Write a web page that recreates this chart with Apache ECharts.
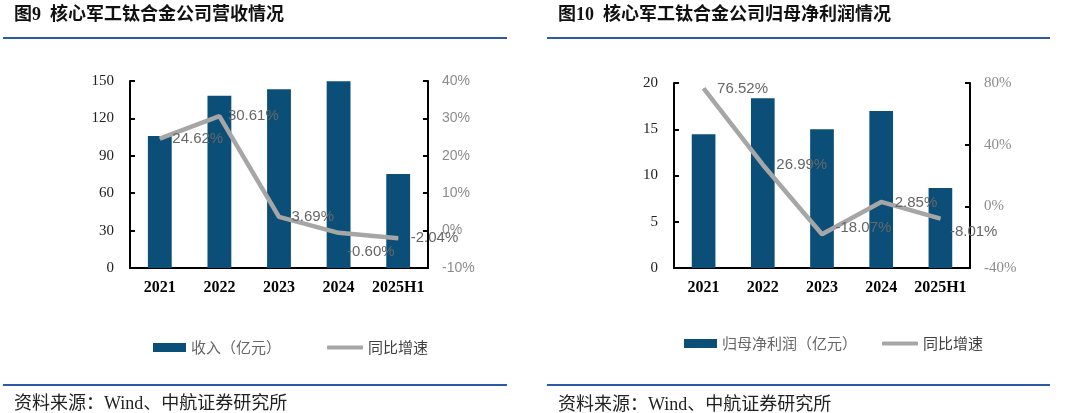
<!DOCTYPE html>
<html>
<head>
<meta charset="utf-8">
<script src="https://cdn.jsdelivr.net/npm/echarts@6/dist/echarts.min.js"></script>
<style>
html,body{margin:0;padding:0;background:#fff;}
#c{width:1080px;height:413px;}
</style>
</head>
<body>
<div id="c"></div>
<script>
// ---- data ----
const categories = ['2021', '2022', '2023', '2024', '2025H1'];
const revenue = [105.8, 138.2, 143.3, 149.8, 75.4];          // 收入（亿元）
const revenueYoY = [24.62, 30.61, 3.69, -0.60, -2.04];       // 同比增速 %
const profit = [14.45, 18.35, 15.0, 16.97, 8.65];            // 归母净利润（亿元）
const profitYoY = [76.52, 26.99, -18.07, 2.85, -8.01];       // 同比增速 %
const leftRevAxis = {min: 0, max: 150, interval: 30};
const leftYoYAxis = {min: -10, max: 40, interval: 10};
const rightProfitAxis = {min: 0, max: 20, interval: 5};
const rightYoYAxis = {min: -40, max: 80, interval: 40};
const titles = ['图9  核心军工钛合金公司营收情况', '图10  核心军工钛合金公司归母净利润情况'];
const sourceText = '资料来源：Wind、中航证券研究所';

// ---- styling ----
const BAR = '#0b4f79';
const LINE = '#a6a6a6';
const BLUE = '#2a5aa8';
const SERIF = '"Liberation Serif", "Noto Sans CJK SC", serif';
const SANS = '"Liberation Sans", "Noto Sans CJK SC", sans-serif';
const CJK = '"Noto Sans CJK SC", sans-serif';

const revOffsets = [[0, 0], [-4, 0], [0, 0], [-4, 19], [0, 0]];
const profOffsets = [[0, 0], [0, 0], [0, -6], [0, 1], [-4, 13]];

function yoyData(vals, offs) {
  return vals.map((v, i) => ({value: v, label: {offset: offs[i]}}));
}

const chart = echarts.init(document.getElementById('c'));

function xAxisFor(gi) {
  return {
    type: 'category', gridIndex: gi, data: categories,
    axisLine: {lineStyle: {color: '#000', width: 2}},
    axisTick: {inside: true, length: 5, lineStyle: {color: '#000', width: 2}},
    axisLabel: {interval: 0, fontFamily: SERIF, fontWeight: 'bold', fontSize: 16, color: '#000', margin: 12}
  };
}
function yAxisFor(gi, cfg, pos, labelOpt) {
  return Object.assign({
    type: 'value', gridIndex: gi, position: pos,
    min: cfg.min, max: cfg.max, interval: cfg.interval,
    splitLine: {show: false},
    axisLine: {show: true, lineStyle: {color: '#000', width: 2}},
    axisTick: {show: true, inside: true, length: 5, lineStyle: {color: '#000', width: 2}},
  }, {axisLabel: labelOpt});
}

const option = {
  animation: false,
  backgroundColor: '#fff',
  grid: [
    {left: 130, right: 652, top: 81, bottom: 145},
    {left: 674, right: 110, top: 83, bottom: 145}
  ],
  xAxis: [xAxisFor(0), xAxisFor(1)],
  yAxis: [
    yAxisFor(0, leftRevAxis, 'left', {fontFamily: SERIF, fontSize: 15, color: '#222', margin: 16}),
    yAxisFor(0, leftYoYAxis, 'right', {fontFamily: SANS, fontSize: 14, color: '#8c8c8c', margin: 14, formatter: '{value}%'}),
    yAxisFor(1, rightProfitAxis, 'left', {fontFamily: SERIF, fontSize: 15, color: '#222', margin: 16}),
    yAxisFor(1, rightYoYAxis, 'right', {fontFamily: SERIF, fontSize: 15, color: '#8c8c8c', margin: 14, formatter: '{value}%'})
  ],
  legend: [
    {left: 148, top: 335, itemWidth: 33, itemHeight: 9, itemGap: 10, selectedMode: false,
     data: [{name: '收入（亿元）', icon: 'rect', itemStyle: {color: BAR}}],
     textStyle: {fontFamily: CJK, fontSize: 15, color: '#666', padding: [3, 0, 0, 0]}},
    {left: 322, top: 335, itemWidth: 36, itemHeight: 4, selectedMode: false,
     data: [{name: '同比增速', icon: 'roundRect', itemStyle: {color: LINE}}],
     textStyle: {fontFamily: CJK, fontSize: 15, color: '#404040', padding: [3, 0, 0, 0]}},
    {left: 679, top: 331, itemWidth: 33, itemHeight: 9, selectedMode: false,
     data: [{name: '归母净利润（亿元）', icon: 'rect', itemStyle: {color: BAR}}],
     textStyle: {fontFamily: CJK, fontSize: 15, color: '#666', padding: [1, 0, 0, 0]}},
    {left: 877, top: 331, itemWidth: 36, itemHeight: 4, selectedMode: false,
     data: [{name: '同比增速', icon: 'roundRect', itemStyle: {color: LINE}}],
     textStyle: {fontFamily: CJK, fontSize: 15, color: '#404040', padding: [1, 0, 0, 0]}}
  ],
  series: [
    {name: '收入（亿元）', type: 'bar', xAxisIndex: 0, yAxisIndex: 0, data: revenue,
     barWidth: '40%', itemStyle: {color: BAR}},
    {name: '同比增速', type: 'line', xAxisIndex: 0, yAxisIndex: 1, data: yoyData(revenueYoY, revOffsets),
     symbol: 'circle', symbolSize: 1, itemStyle: {color: LINE},
     lineStyle: {color: LINE, width: 4.5}, z: 5,
     label: {show: true, position: 'right', distance: 12, fontFamily: SANS, fontSize: 15, color: '#666',
       formatter: p => p.value.toFixed(2) + '%'}},
    {name: '归母净利润（亿元）', type: 'bar', xAxisIndex: 1, yAxisIndex: 2, data: profit,
     barWidth: '40%', itemStyle: {color: BAR}},
    {name: '同比增速', type: 'line', xAxisIndex: 1, yAxisIndex: 3, data: yoyData(profitYoY, profOffsets),
     symbol: 'circle', symbolSize: 1, itemStyle: {color: LINE},
     lineStyle: {color: LINE, width: 4.5}, z: 5,
     label: {show: true, position: 'right', distance: 13, fontFamily: SANS, fontSize: 15, color: '#666',
       formatter: p => p.value.toFixed(2) + '%'}}
  ],
  graphic: [
    {type: 'text', left: 14, top: 6, style: {text: titles[0], font: 'bold 18px ' + SERIF, fill: '#111'}},
    {type: 'text', left: 558, top: 6, style: {text: titles[1], font: 'bold 18px ' + SERIF, fill: '#111'}},
    {type: 'line', shape: {x1: 3, y1: 38, x2: 507, y2: 38}, style: {stroke: BLUE, lineWidth: 2}},
    {type: 'line', shape: {x1: 547, y1: 38, x2: 1050, y2: 38}, style: {stroke: BLUE, lineWidth: 2}},
    {type: 'line', shape: {x1: 3, y1: 385, x2: 507, y2: 385}, style: {stroke: BLUE, lineWidth: 2}},
    {type: 'line', shape: {x1: 547, y1: 385, x2: 1050, y2: 385}, style: {stroke: BLUE, lineWidth: 2}},
    {type: 'text', left: 14, top: 395, style: {text: sourceText, font: '18px ' + SERIF, fill: '#222'}},
    {type: 'text', left: 558, top: 396, style: {text: sourceText, font: '18px ' + SERIF, fill: '#222'}}
  ]
};
chart.setOption(option);
</script>
</body>
</html>
